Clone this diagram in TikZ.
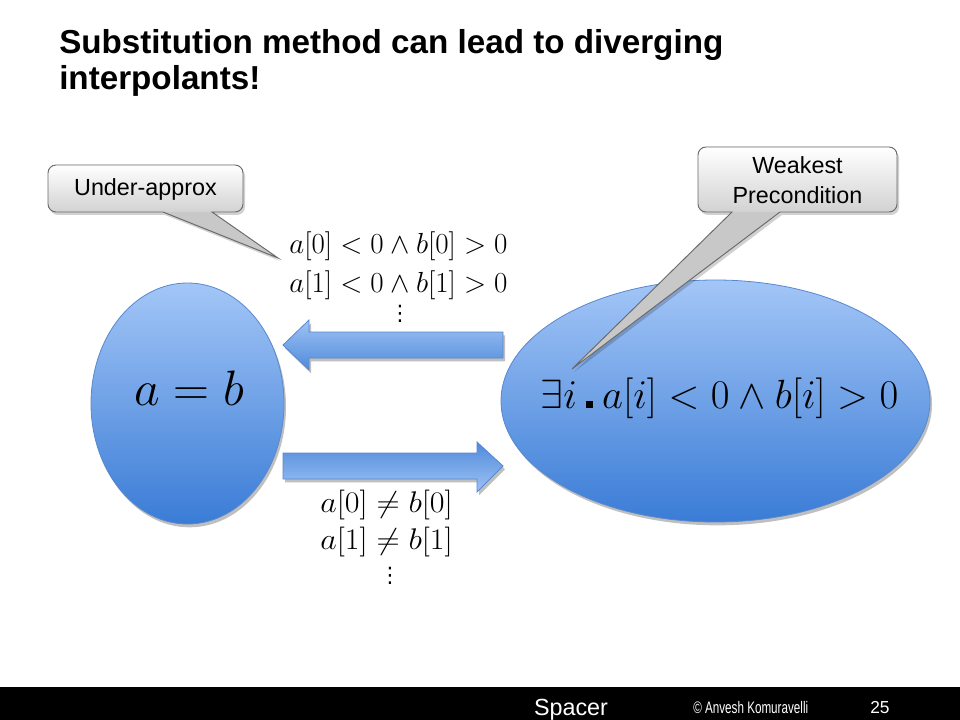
\documentclass[tikz,border=0pt]{standalone}
\usepackage{fontspec}
\setmainfont{Liberation Sans}
\newfontfamily\dotsfont{DejaVu Sans}
\usetikzlibrary{shapes.geometric,shadows}
\definecolor{ellTop}{RGB}{163,198,247}
\definecolor{ellBot}{RGB}{58,124,214}
\definecolor{ellLine}{RGB}{88,136,206}
\definecolor{arrDark}{RGB}{80,138,218}
\definecolor{arrLight}{RGB}{158,195,245}
\definecolor{calloutLine}{RGB}{105,105,105}
\definecolor{calloutBot}{RGB}{210,210,210}
\definecolor{tailGray}{RGB}{200,200,200}
\begin{document}
\begin{tikzpicture}[x=0.75pt,y=-0.75pt,
  ellipsebox/.style={ellipse, draw=ellLine, line width=0.6pt, top color=ellTop, bottom color=ellBot, inner sep=0pt,
    drop shadow={shadow xshift=1.5pt, shadow yshift=-2.5pt, opacity=0.25, fill=black}},
  blockarrow/.style={draw=ellLine, line width=0.6pt, line join=miter,
    drop shadow={shadow xshift=1.5pt, shadow yshift=-2.5pt, opacity=0.25, fill=black}},
  mathtext/.style={inner sep=0pt, font=\fontsize{20}{24}\selectfont},
  vdotstext/.style={inner sep=0pt, font=\dotsfont\fontsize{16}{18}\selectfont},
  callouttext/.style={inner sep=0pt, align=center, font=\fontsize{17.5}{22.5}\selectfont},
  calloutline/.style={draw=calloutLine, line width=0.7pt, line join=miter},
  titletext/.style={anchor=base west, inner sep=0pt, font=\fontsize{24.9}{28}\selectfont\bfseries}
]
\useasboundingbox (0,0) rectangle (960,720);
\fill[white] (0,0) rectangle (960,720);

% title
\node[titletext] (t1) at (59,54) {Substitution method can lead to diverging};
\node[titletext] (t2) at (59,90) {interpolants!};

% ellipses
\node[ellipsebox, minimum width=144.75pt, minimum height=180.75pt] (L) at (187.5,403.5) {};
\node[ellipsebox, minimum width=321.75pt, minimum height=181.5pt] (R) at (715.5,401) {};
\node[mathtext, anchor=base] (eq) at (189,405) {\scalebox{1.8}{$a = b$}};
\node[mathtext] (ex) at (719.5,398)
  {\scalebox{1.475}{$\exists i\mathbin{\rule{0.18em}{0.18em}}a[i] < 0 \wedge b[i] > 0$}};

% block arrows
\path[blockarrow, top color=arrLight, bottom color=arrDark] (283,345) -- (309,320) -- (309,332) -- (503,332) -- (503,358) -- (309,358) -- (309,370) -- cycle;
\path[blockarrow, top color=arrDark, bottom color=arrLight] (283,453) -- (477,453) -- (477,442) -- (503,466) -- (477,492) -- (477,479) -- (283,479) -- cycle;

% math labels
\node[mathtext] (u1) at (398.5,246) {\scalebox{1.05}{$a[0] < 0 \wedge b[0] > 0$}};
\node[mathtext] (u2) at (398.5,285) {\scalebox{1.05}{$a[1] < 0 \wedge b[1] > 0$}};
\node[vdotstext] (u3) at (400,314) {⋮};
\node[mathtext] (l1) at (386.5,505) {\scalebox{1.16}[1.08]{$a[0] \neq b[0]$}};
\node[mathtext] (l2) at (386.5,542) {\scalebox{1.16}[1.08]{$a[1] \neq b[1]$}};
\node[vdotstext] (l3) at (390,576) {⋮};

% callout: Under-approx
\begin{scope}[shift={(2,3)}]
\fill[black, opacity=0.18] (145,165) [rounded corners=6pt] -- (243,165) -- (243,212) -- (228,212) [sharp corners] -- (212,212) -- (278,258) -- (163,212) -- (150,212) [rounded corners=6pt] -- (48,212) -- (48,165) -- cycle;
\end{scope}
\fill[tailGray] (145,165) [rounded corners=6pt] -- (243,165) -- (243,212) -- (228,212) [sharp corners] -- (212,212) -- (278,258) -- (163,212) -- (150,212) [rounded corners=6pt] -- (48,212) -- (48,165) -- cycle;
\shade[top color=white, bottom color=calloutBot, rounded corners=6pt] (48,165) rectangle (243,212);
\path[calloutline] (145,165) [rounded corners=6pt] -- (243,165) -- (243,212) -- (228,212) [sharp corners] -- (212,212) -- (278,258) -- (163,212) -- (150,212) [rounded corners=6pt] -- (48,212) -- (48,165) -- cycle;
\node[callouttext] (ua) at (145.5,189) {Under-approx};

% callout: Weakest Precondition
\begin{scope}[shift={(2,3)}]
\fill[black, opacity=0.18] (797,147) [rounded corners=6pt] -- (897,147) -- (897,212) -- (790,212) [sharp corners] -- (780,212) -- (572,369) -- (732,212) -- (722,212) [rounded corners=6pt] -- (698,212) -- (698,147) -- cycle;
\end{scope}
\fill[tailGray] (797,147) [rounded corners=6pt] -- (897,147) -- (897,212) -- (790,212) [sharp corners] -- (780,212) -- (572,369) -- (732,212) -- (722,212) [rounded corners=6pt] -- (698,212) -- (698,147) -- cycle;
\shade[top color=white, bottom color=calloutBot, rounded corners=6pt] (698,147) rectangle (897,212);
\path[calloutline] (797,147) [rounded corners=6pt] -- (897,147) -- (897,212) -- (790,212) [sharp corners] -- (780,212) -- (572,369) -- (732,212) -- (722,212) [rounded corners=6pt] -- (698,212) -- (698,147) -- cycle;
\node[callouttext] (wp) at (797.5,180) {Weakest\\Precondition};

% footer
\fill[black] (0,687) rectangle (960,720);
\node[white, inner sep=0pt, anchor=base, font=\fontsize{17.5}{20}\selectfont] (spacer) at (571,715) {Spacer};
\node[white, inner sep=0pt, anchor=base west, font=\fontsize{12.5}{14}\selectfont] (copy) at (693,713) {\scalebox{0.70}[1]{© Anvesh Komuravelli}};
\node[white, inner sep=0pt, anchor=base west, font=\fontsize{13}{14}\selectfont] (pg) at (870,713) {25};
\end{tikzpicture}
\end{document}
